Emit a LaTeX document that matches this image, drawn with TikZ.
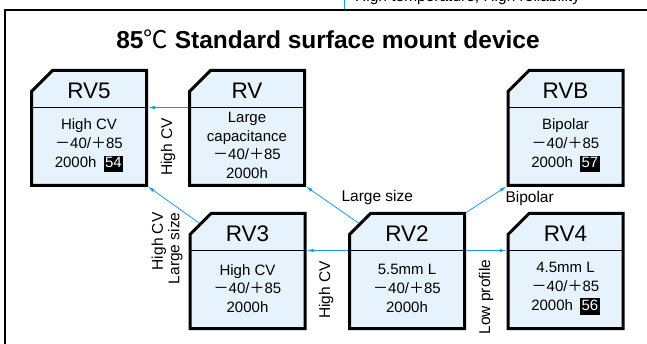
\documentclass[tikz,border=0pt]{standalone}
\usepackage{fontspec}
\setmainfont{Liberation Sans}
\newfontfamily\cjk{Noto Sans CJK JP}
\usetikzlibrary{arrows.meta,calc}
\definecolor{lineblue}{RGB}{20,160,225}
\definecolor{boxfill}{RGB}{230,243,252}
\newcommand\fs[2]{\fontsize{#1}{#2}\selectfont}
\newcommand\tp{{\cjk －}40/{\cjk ＋}85}
\newcommand\badge[1]{\hspace{7pt}{\setlength{\fboxsep}{1.5pt}\colorbox{black}{\textcolor{white}{\vphantom{Hg}#1}}}}
\newcommand\capbox[5]{%
  \node[boxframe] (#1) at (#2,#3) {};
  \draw[line width=3pt, line join=miter, fill=boxfill] (#1.south west) -- ($(#1.north west)+(0,21)$) -- ($(#1.north west)+(21,0)$) -- (#1.north east) -- (#1.south east) -- cycle;
  \coordinate (#1-dl) at ($(#1.north west)+(0,37)$);
  \coordinate (#1-dr) at ($(#1.north east)+(0,37)$);
  \coordinate (#1-cm) at ($(#1.north west)+(10.5,10.5)$);
  \draw[line width=1.3pt] (#1-dl) -- (#1-dr);
  \node[hdr] (#1-h) at ($(#1.north)+(0,20.5)$) {#4};
  \node[body] (#1-b) at ($(#1.north)+(0,75)$) {#5};
}
\begin{document}
\begin{tikzpicture}[x=1pt,y=-1pt,
  boxframe/.style={minimum width=115pt, minimum height=115pt, inner sep=0pt, outer sep=0pt},
  hdr/.style={font=\fs{22.5}{26}, inner sep=0pt},
  body/.style={font=\fs{15}{18.8}, align=center, inner sep=0pt},
  conn/.style={draw=lineblue, line width=0.8pt, shorten >=1.5pt, shorten <=1.5pt, -{Latex[length=7pt,width=3.5pt]}},
  lbl/.style={font=\fs{15.5}{16.5}},
]
\useasboundingbox (0,0) rectangle (647,344);
\clip (0,0) rectangle (647,344);
\fill[white] (0,0) rectangle (647,344);

% frame and fragments of the neighbouring diagram
\coordinate (f1) at (4.5,360);
\coordinate (f2) at (4.5,10);
\coordinate (f3) at (660,10);
\draw[line width=2pt] (f1) -- (f2) -- (f3);
\coordinate (v1) at (344,-5);
\coordinate (v2) at (344,9);
\draw[lineblue, line width=0.8pt] (v1) -- (v2);
\node[lbl, anchor=base west, inner sep=0pt] (toptext) at (355,1.5) {High temperature, High reliability};

% title
\node[font=\bfseries\fs{24.5}{28}] (title) at (328,39) {85{\mdseries\cjk ℃} Standard surface mount device};

% boxes
\capbox{rv5}{89}{128}{RV5}{High CV\\\tp\\2000h\badge{54}}
\capbox{rv}{247}{128}{RV}{Large\\capacitance\\\tp\\2000h}
\capbox{rvb}{565.5}{128}{RVB}{Bipolar\\\tp\\2000h\badge{57}}
\capbox{rv3}{247.5}{271}{RV3}{High CV\\\tp\\2000h}
\capbox{rv2}{407}{271}{RV2}{5.5mm L\\\tp\\2000h}
\capbox{rv4}{565.5}{271}{RV4}{4.5mm L\\\tp\\2000h\badge{56}}

% connectors
\draw[conn] (rv-dl) -- (rv5-dr);
\draw[conn] (rv2-dl) -- (rv3-dr);
\draw[conn] (rv2-dr) -- (rv4-dl);
\draw[conn] (rv2-cm) -- (rv.south east);
\draw[conn] (rv2.north east) -- (rvb.south west);
\draw[conn] (rv3-cm) -- (rv5.south east);

% labels
\node[lbl, rotate=90] (l1) at (168,147) {High CV};
\node[lbl, rotate=90, anchor=east, align=right] (l2) at (167,209) {High CV\\Large size};
\node[lbl, rotate=90] (l3) at (326,290) {High CV};
\node[lbl, rotate=90] (l4) at (486,297) {Low profile};
\node[lbl, anchor=west] (l5) at (338,197) {Large size};
\node[lbl, anchor=west] (l6) at (502,198) {Bipolar};
\end{tikzpicture}
\end{document}
